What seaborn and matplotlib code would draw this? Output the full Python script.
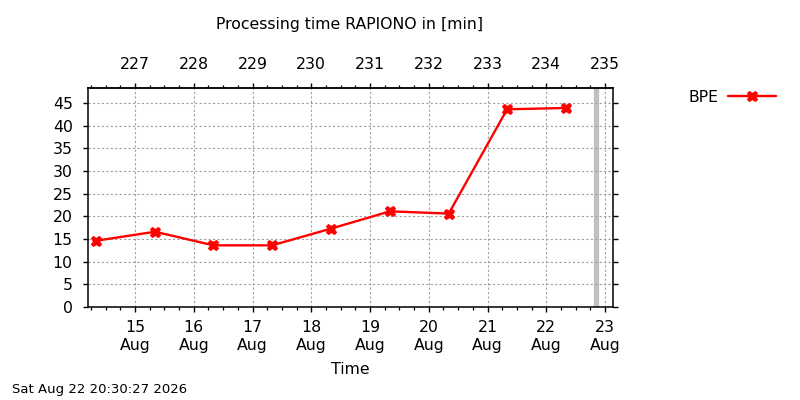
import pandas as pd
import matplotlib
matplotlib.use('Agg')
import matplotlib.pyplot as plt
import matplotlib.dates as mdates
import seaborn as sns

# data
times = ['2026-08-14 08:00', '2026-08-15 08:10', '2026-08-16 08:00', '2026-08-17 08:00',
         '2026-08-18 08:10', '2026-08-19 08:10', '2026-08-20 08:10', '2026-08-21 08:00',
         '2026-08-22 08:10']
bpe = [14.6, 16.6, 13.6, 13.6, 17.3, 21.1, 20.6, 43.6, 43.9]
now = '2026-08-22 20:30'
stamp = 'Sat Aug 22 20:30:27 2026'
day_ticks = pd.date_range('2026-08-15', '2026-08-23', freq='D')
doy_labels = [str(d.dayofyear) for d in day_ticks]

df = pd.DataFrame({'Time': pd.to_datetime(times), 'BPE': bpe})

sns.set_style('white')
plt.rcParams['font.family'] = ['DejaVu Sans']
plt.rcParams['font.size'] = 11.3
for k in ['text.color', 'xtick.color', 'ytick.color', 'axes.labelcolor']:
    plt.rcParams[k] = 'black'

fig = plt.figure(figsize=(8, 4), dpi=100)
ax = fig.add_axes([88 / 800, 1 - 307 / 400, (613 - 88) / 800, (307 - 88) / 400])

sns.lineplot(data=df, x='Time', y='BPE', ax=ax, color='red', lw=1.7,
             marker='X', markersize=7.5, markeredgecolor='red', label='BPE', legend=False)
ax.axvline(pd.Timestamp(now), color='#c0c0c0', lw=3.8, zorder=0)

ax.set_xlim(pd.Timestamp('2026-08-14 04:48'), pd.Timestamp('2026-08-23 03:16'))
ax.set_ylim(0, 48.3)
ax.set_yticks(range(0, 50, 5))
ax.set_xticks(day_ticks)
ax.xaxis.set_major_formatter(mdates.DateFormatter('%d\n%b'))
ax.xaxis.set_minor_locator(mdates.HourLocator(byhour=[0, 6, 12, 18]))
ax.set_xlabel('')
ax.set_ylabel('')

ax.grid(True, which='major', color='#a0a0a0', ls=(0, (2, 2)), lw=0.8)
for s in ax.spines.values():
    s.set_linewidth(1.1)
    s.set_color('black')
ax.tick_params(which='major', direction='out', length=3.5, width=1.0, pad=6,
               labelsize=11.3, bottom=True, left=True, right=True)
ax.tick_params(axis='y', pad=7.5)
ax.tick_params(which='minor', direction='out', length=2, width=0.9, bottom=True)
ax.tick_params(axis='x', labelbottom=True)

top = ax.secondary_xaxis('top')
top.set_xticks(day_ticks)
top.set_xticklabels(doy_labels)
top.xaxis.set_minor_locator(mdates.HourLocator(byhour=[0, 6, 12, 18]))
top.tick_params(which='major', direction='out', length=3.5, width=1.0, pad=8, labelsize=11.3)
top.tick_params(which='minor', direction='out', length=2, width=0.9)
top.spines['top'].set_linewidth(1.1)

fig.text(350 / 800, 1 - 24 / 400, 'Processing time RAPIONO in [min]', ha='center', va='center', fontsize=11.3)
fig.text(350 / 800, 1 - 369 / 400, 'Time', ha='center', va='center', fontsize=11.3)
fig.text(12 / 800, 1 - 390 / 400, stamp, ha='left', va='center', fontsize=9.5)

h, l = ax.get_legend_handles_labels()
fig.legend(h, l, loc='center left', bbox_to_anchor=(682 / 800, 1 - 97 / 400), frameon=False,
           markerfirst=False, handlelength=3.1, handletextpad=0.6, fontsize=11.3, borderaxespad=0)

fig.savefig('out.png', dpi=100)
